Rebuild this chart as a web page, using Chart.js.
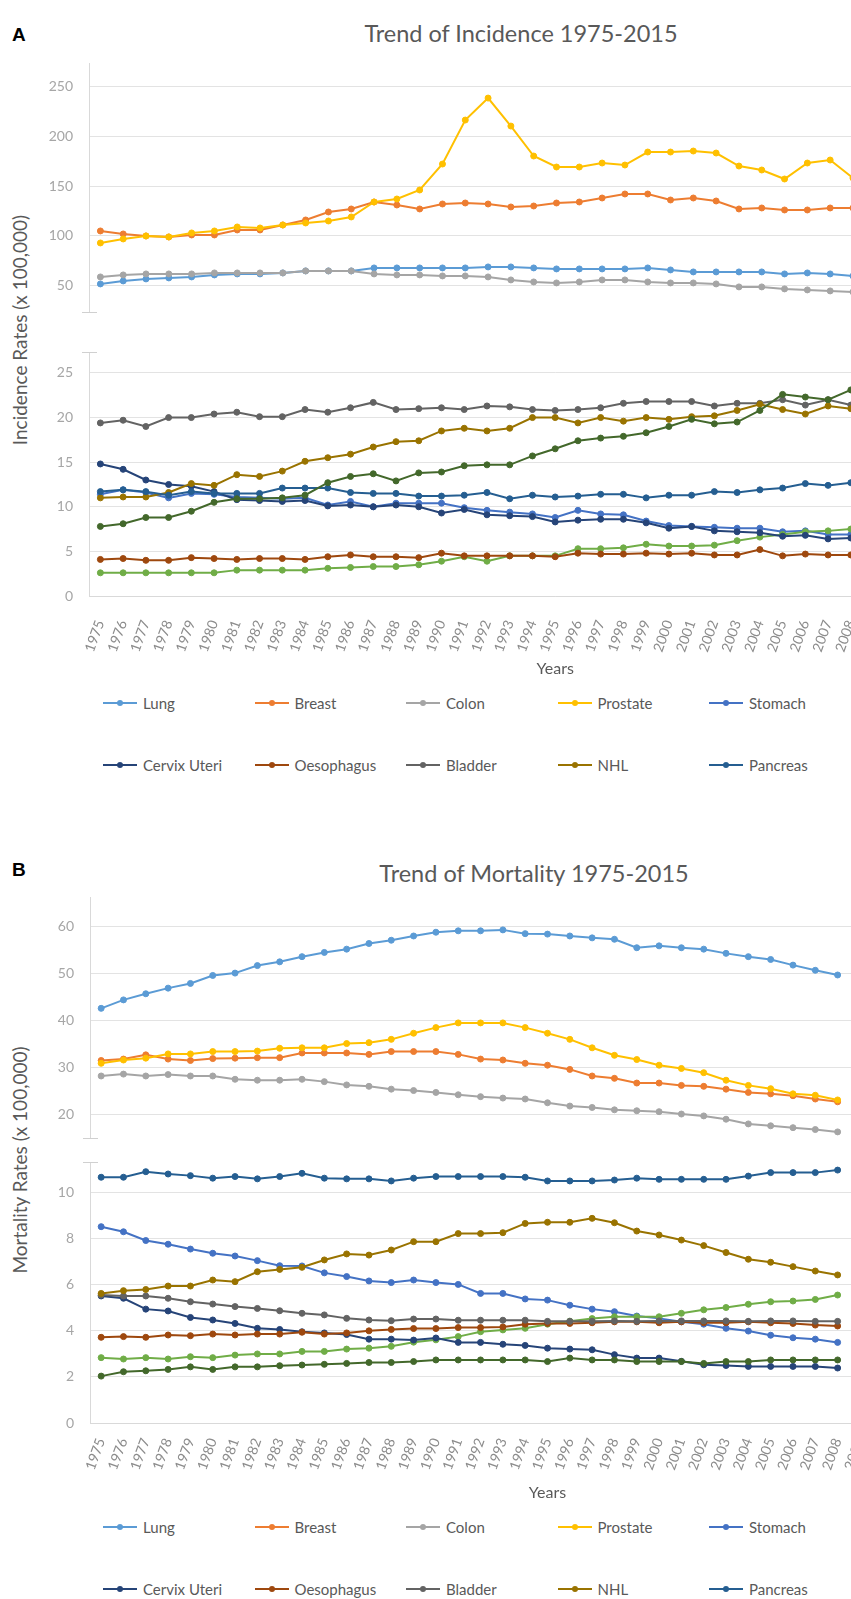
<!DOCTYPE html>
<html>
<head>
<meta charset="utf-8">
<script src="https://cdn.jsdelivr.net/npm/chart.js@4.4.1/dist/chart.umd.min.js"></script>
<style>
  html, body { margin: 0; padding: 0; background: #fff; overflow: hidden; width: 851px; height: 1599px; }
  body { position: relative; font-family: Lato, "Open Sans", sans-serif; }
  canvas { position: absolute; left: 0; }
  .tag { position: absolute; left: 12px; font-family: "Liberation Sans", Arial, sans-serif; font-weight: bold; font-size: 19px; color: #000; transform: translateY(-50%); }
  .title { position: absolute; font-size: 23.5px; color: #595959; white-space: nowrap; transform: translate(-50%, -50%); }
  .ytitle { position: absolute; font-size: 19px; color: #595959; white-space: nowrap; transform: translate(-50%, -50%) rotate(-90deg); }
  .legend-item { position: absolute; display: flex; align-items: center; font-size: 15px; color: #595959; white-space: nowrap; transform: translateY(-50%); }
  .legend-item svg { margin-right: 6px; }
</style>
</head>
<body>
<div class="tag" style="top:35px">A</div>
<div class="title" style="left:521px; top:33px">Trend of Incidence 1975-2015</div>
<div class="ytitle" style="left:19px; top:330px">Incidence Rates (x 100,000)</div>
<canvas id="incUpper" width="1040" height="299" style="top:38px"></canvas>
<canvas id="incLower" width="1040" height="353" style="top:327px"></canvas>

<div class="tag" style="top:870px">B</div>
<div class="title" style="left:534px; top:873px">Trend of Mortality 1975-2015</div>
<div class="ytitle" style="left:19px; top:1160px">Mortality Rates (x 100,000)</div>
<canvas id="morUpper" width="1020" height="291" style="top:872px"></canvas>
<canvas id="morLower" width="1020" height="370" style="top:1137px"></canvas>

<script>
// x categories
const years = ['1975','1976','1977','1978','1979','1980','1981','1982','1983','1984',
  '1985','1986','1987','1988','1989','1990','1991','1992','1993','1994','1995','1996',
  '1997','1998','1999','2000','2001','2002','2003','2004','2005','2006','2007','2008',
  '2009','2010','2011','2012','2013','2014','2015'];

const names = ['Lung','Breast','Colon','Prostate','Stomach','Liver',
  'Cervix Uteri','Oesophagus','Bladder','NHL','Pancreas','Melanoma'];
const colors = ['#5B9BD5','#ED7D31','#A5A5A5','#FFC000','#4472C4','#70AD47',
  '#264478','#9E480E','#636363','#997300','#255E91','#43682B'];

// incidence per 100,000 (1975-2008, the part visible in the figure)
const incLung = [52,55,57,58,59,61,62,62,63,65,65,65,68,68,68,68,68,69,69,68,67,67,67,67,68,66,64,64,64,64,62,63,62,60];
const incBreast = [105,102,100,99,101,101,106,106,111,116,124,127,134,131,127,132,133,132,129,130,133,134,138,142,142,136,138,135,127,128,126,126,128,128];
const incColon = [59,61,62,62,62,63,63,63,63,65,65,65,62,61,61,60,60,59,56,54,53,54,56,56,54,53,53,52,49,49,47,46,45,44];
const incProstate = [93,97,100,99,103,105,109,108,111,113,115,119,134,137,146,172,216,238,210,180,169,169,173,171,184,184,185,183,170,166,157,173,176,158];
const incStomach = [11.4,11.9,11.6,11.0,11.5,11.4,11.1,11.0,10.9,11.0,10.2,10.6,10.0,10.4,10.4,10.4,9.9,9.6,9.4,9.2,8.8,9.6,9.2,9.1,8.4,7.9,7.8,7.7,7.6,7.6,7.2,7.3,6.9,6.9];
const incLiver = [2.6,2.6,2.6,2.6,2.6,2.6,2.9,2.9,2.9,2.9,3.1,3.2,3.3,3.3,3.5,3.9,4.4,3.9,4.5,4.5,4.5,5.3,5.3,5.4,5.8,5.6,5.6,5.7,6.2,6.6,6.9,7.2,7.3,7.5];
const incCervix = [14.8,14.2,13.0,12.5,12.3,11.7,10.8,10.7,10.6,10.7,10.1,10.2,10.0,10.2,10.0,9.3,9.7,9.1,9.0,8.9,8.3,8.5,8.6,8.6,8.2,7.6,7.8,7.3,7.2,7.1,6.7,6.8,6.4,6.5];
const incOesophagus = [4.1,4.2,4.0,4.0,4.3,4.2,4.1,4.2,4.2,4.1,4.4,4.6,4.4,4.4,4.3,4.8,4.5,4.5,4.5,4.5,4.4,4.8,4.7,4.7,4.8,4.7,4.8,4.6,4.6,5.2,4.5,4.7,4.6,4.6];
const incBladder = [19.4,19.7,19.0,20.0,20.0,20.4,20.6,20.1,20.1,20.9,20.6,21.1,21.7,20.9,21.0,21.1,20.9,21.3,21.2,20.9,20.8,20.9,21.1,21.6,21.8,21.8,21.8,21.3,21.6,21.6,22.0,21.4,22.0,21.4];
const incNHL = [11.0,11.1,11.1,11.6,12.6,12.4,13.6,13.4,14.0,15.1,15.5,15.9,16.7,17.3,17.4,18.5,18.8,18.5,18.8,20.0,20.0,19.4,20.0,19.6,20.0,19.8,20.1,20.2,20.8,21.5,20.9,20.4,21.3,21.0];
const incPancreas = [11.7,11.9,11.7,11.3,11.7,11.5,11.5,11.5,12.1,12.1,12.1,11.6,11.5,11.5,11.2,11.2,11.3,11.6,10.9,11.3,11.1,11.2,11.4,11.4,11.0,11.3,11.3,11.7,11.6,11.9,12.1,12.6,12.4,12.7];
const incMelanoma = [7.8,8.1,8.8,8.8,9.5,10.5,10.9,10.9,11.0,11.3,12.7,13.4,13.7,12.9,13.8,13.9,14.6,14.7,14.7,15.7,16.5,17.4,17.7,17.9,18.3,19.0,19.8,19.3,19.5,20.8,22.6,22.3,22.0,23.1];

// mortality per 100,000
const morLung = [42.5,44.3,45.6,46.8,47.8,49.5,50.0,51.6,52.4,53.5,54.4,55.1,56.3,57.0,57.9,58.7,59.0,59.0,59.2,58.4,58.3,57.9,57.5,57.2,55.4,55.8,55.4,55.1,54.2,53.5,52.9,51.7,50.6,49.6];
const morBreast = [31.4,31.7,32.6,31.7,31.4,31.8,31.9,32.0,32.0,33.0,33.0,33.0,32.7,33.3,33.3,33.3,32.7,31.7,31.5,30.8,30.4,29.5,28.1,27.6,26.6,26.6,26.1,25.9,25.3,24.6,24.3,23.9,23.2,22.6];
const morColon = [28.1,28.5,28.1,28.4,28.1,28.1,27.4,27.2,27.2,27.4,26.9,26.2,25.9,25.3,25.0,24.6,24.1,23.7,23.4,23.2,22.4,21.7,21.4,20.9,20.7,20.5,20.0,19.6,18.9,17.9,17.5,17.1,16.7,16.2];
const morProstate = [30.8,31.5,31.9,32.8,32.8,33.3,33.3,33.4,34.0,34.1,34.1,35.0,35.2,35.9,37.2,38.4,39.4,39.4,39.4,38.4,37.2,35.9,34.1,32.5,31.6,30.4,29.7,28.8,27.2,26.1,25.4,24.3,24.0,23.0];
const morStomach = [8.5,8.28,7.9,7.74,7.53,7.35,7.23,7.03,6.81,6.8,6.5,6.34,6.15,6.08,6.19,6.08,6.0,5.61,5.61,5.37,5.32,5.1,4.93,4.82,4.63,4.53,4.38,4.28,4.1,3.98,3.8,3.69,3.63,3.49];
const morLiver = [2.83,2.77,2.83,2.77,2.87,2.83,2.94,2.99,2.99,3.1,3.1,3.2,3.24,3.32,3.5,3.6,3.74,3.95,4.03,4.1,4.28,4.41,4.52,4.6,4.6,4.6,4.75,4.9,5.0,5.14,5.25,5.28,5.35,5.54];
const morCervix = [5.5,5.4,4.93,4.85,4.57,4.46,4.31,4.1,4.05,3.95,3.9,3.83,3.63,3.63,3.59,3.68,3.49,3.49,3.41,3.36,3.24,3.2,3.17,2.96,2.81,2.81,2.67,2.52,2.49,2.45,2.45,2.45,2.45,2.38];
const morOesophagus = [3.71,3.74,3.71,3.81,3.78,3.85,3.81,3.85,3.85,3.93,3.85,3.9,3.99,4.05,4.09,4.09,4.13,4.13,4.16,4.28,4.31,4.31,4.34,4.38,4.38,4.34,4.38,4.34,4.34,4.38,4.34,4.31,4.24,4.2];
const morBladder = [5.54,5.5,5.5,5.4,5.25,5.15,5.04,4.96,4.86,4.75,4.68,4.53,4.46,4.43,4.5,4.5,4.45,4.45,4.45,4.45,4.4,4.4,4.4,4.42,4.4,4.42,4.42,4.42,4.42,4.4,4.42,4.42,4.4,4.4];
const morNHL = [5.61,5.73,5.78,5.93,5.93,6.19,6.12,6.55,6.65,6.74,7.06,7.32,7.27,7.49,7.85,7.85,8.2,8.2,8.24,8.64,8.69,8.69,8.86,8.67,8.31,8.14,7.92,7.68,7.38,7.09,6.96,6.77,6.58,6.41];
const morPancreas = [10.64,10.64,10.88,10.78,10.71,10.6,10.67,10.57,10.67,10.81,10.6,10.57,10.57,10.48,10.6,10.67,10.67,10.67,10.67,10.64,10.48,10.48,10.48,10.52,10.6,10.55,10.55,10.55,10.55,10.69,10.84,10.84,10.84,10.95];
const morMelanoma = [2.03,2.22,2.26,2.32,2.43,2.32,2.43,2.43,2.48,2.51,2.54,2.58,2.62,2.62,2.66,2.73,2.73,2.73,2.73,2.73,2.66,2.81,2.73,2.73,2.66,2.66,2.66,2.58,2.66,2.66,2.73,2.73,2.73,2.73];

const incidence = [incLung, incBreast, incColon, incProstate, incStomach, incLiver,
  incCervix, incOesophagus, incBladder, incNHL, incPancreas, incMelanoma];
const mortality = [morLung, morBreast, morColon, morProstate, morStomach, morLiver,
  morCervix, morOesophagus, morBladder, morNHL, morPancreas, morMelanoma];

// y tick labels of each axis segment
const incUpperTicks = [50, 100, 150, 200, 250];
const incLowerTicks = [0, 5, 10, 15, 20, 25];
const morUpperTicks = [20, 30, 40, 50, 60];
const morLowerTicks = [0, 2, 4, 6, 8, 10];

const upperSeries = [0, 1, 2, 3];
const lowerSeries = [4, 5, 6, 7, 8, 9, 10, 11];

// small cross marks where the value axis is broken
const axisBreak = {
  id: 'axisBreak',
  afterDraw(chart, args, opts) {
    const { ctx, chartArea } = chart;
    const y = Math.round(opts.edge === 'top' ? chartArea.top : chartArea.bottom) + 0.5;
    ctx.save();
    ctx.strokeStyle = '#d0d0d0';
    ctx.lineWidth = 1;
    ctx.beginPath();
    ctx.moveTo(chartArea.left - 7, y);
    ctx.lineTo(chartArea.left + 8, y);
    ctx.stroke();
    ctx.restore();
  }
};

function lineChart(id, values, series, cfg) {
  return new Chart(document.getElementById(id), {
    type: 'line',
    data: {
      labels: years,
      datasets: series.map(i => ({
        label: names[i],
        data: values[i],
        borderColor: colors[i],
        backgroundColor: colors[i],
        borderWidth: 2,
        pointRadius: 3,
        pointHoverRadius: 3,
        pointBorderWidth: 1,
        tension: 0,
        order: -i
      }))
    },
    options: {
      responsive: false,
      animation: false,
      devicePixelRatio: 1,
      // 25px keeps the plot edge clear of the y label padding (half label + 16)
      layout: { padding: { top: 25, right: cfg.padRight, bottom: cfg.showX ? 0 : 25, left: 0 } },
      plugins: {
        legend: { display: false },
        tooltip: { enabled: false },
        axisBreak: { edge: cfg.showX ? 'top' : 'bottom' }
      },
      scales: {
        x: {
          display: cfg.showX,
          offset: true,
          grid: { display: false },
          border: { display: true, color: '#d9d9d9' },
          ticks: {
            autoSkip: false,
            minRotation: 70,
            maxRotation: 70,
            padding: cfg.labelGap,
            color: '#8c8c8c',
            font: { size: 14, family: 'Lato' }
          },
          title: {
            display: true,
            text: 'Years',
            color: '#595959',
            font: { size: 16, family: 'Lato' },
            padding: { top: 0, bottom: cfg.titleGap }
          },
          afterFit: s => { s.height = cfg.showX ? 84 : 0; }
        },
        y: {
          min: cfg.min,
          max: cfg.max,
          afterBuildTicks: s => { s.ticks = cfg.ticks.map(v => ({ value: v })); },
          afterFit: s => { s.width = cfg.axisWidth; },
          grid: { color: '#e3e3e3', drawTicks: false },
          border: { display: true, color: '#d9d9d9' },
          ticks: { color: '#a6a6a6', padding: 16, font: { size: 14, family: 'Lato' } }
        }
      }
    },
    plugins: [axisBreak]
  });
}

lineChart('incUpper', incidence, upperSeries, { showX: false, min: 23.9, max: 273.1, ticks: incUpperTicks, padRight: 16, axisWidth: 89 });
lineChart('incLower', incidence, lowerSeries, { showX: true, min: 0, max: 27.35, ticks: incLowerTicks, padRight: 16, axisWidth: 89, labelGap: 14, titleGap: 2 });
lineChart('morUpper', mortality, upperSeries, { showX: false, min: 14.9, max: 66.2, ticks: morUpperTicks, padRight: 15, axisWidth: 90 });
lineChart('morLower', mortality, lowerSeries, { showX: true, min: 0, max: 11.3, ticks: morLowerTicks, padRight: 15, axisWidth: 90, labelGap: 5, titleGap: 5 });

// legends: two rows of six, the last column falls outside the cropped figure
function buildLegend(rowTops) {
  names.forEach((n, i) => {
    const item = document.createElement('div');
    item.className = 'legend-item';
    item.style.left = (103 + (i % 6) * 151.5) + 'px';
    item.style.top = rowTops[Math.floor(i / 6)] + 'px';
    item.innerHTML = '<svg width="34" height="8"><line x1="0" y1="4" x2="34" y2="4" stroke="' + colors[i] +
      '" stroke-width="2"/><circle cx="17" cy="4" r="3" fill="' + colors[i] + '"/></svg>' + n;
    document.body.appendChild(item);
  });
}
buildLegend([703, 765]);
buildLegend([1527, 1589]);
</script>
</body>
</html>
